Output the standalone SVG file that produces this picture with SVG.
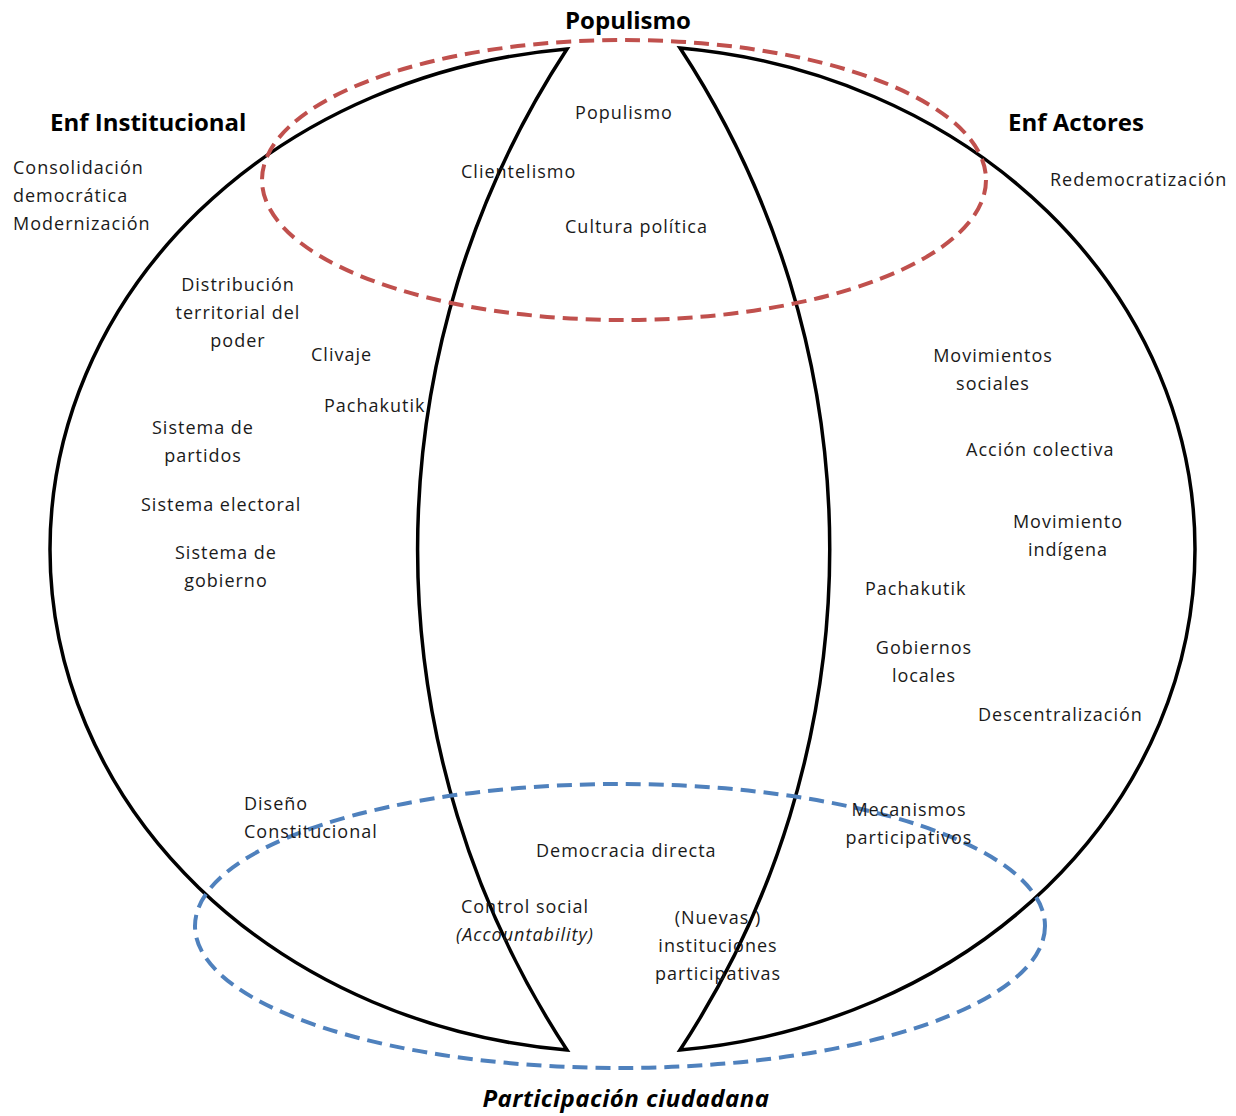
<svg xmlns="http://www.w3.org/2000/svg" width="1236" height="1116" viewBox="0 0 1236 1116">
<style>
.t{font-family:"Open Sans","Liberation Sans",sans-serif;font-size:18px;fill:#1a1a1a;letter-spacing:1px}
.m{text-anchor:middle}
.h{font-family:"Open Sans","Liberation Sans",sans-serif;font-size:24px;font-weight:bold;fill:#000}
.shape{fill:none;stroke:#000;stroke-width:3.5;stroke-linejoin:miter}
.red{fill:none;stroke:#c0504d;stroke-width:4;stroke-dasharray:15 8}
.blue{fill:none;stroke:#4f81bd;stroke-width:4;stroke-dasharray:15 8}
</style>
<rect width="1236" height="1116" fill="#fff"/>
<g id="shapes">
<g id="left-half"><path class="shape" d="M567,49 A572.5,502.9 0 0 0 50,549.5 A572.5,502.9 0 0 0 567,1050 A913,913 0 0 1 567,49 Z"/></g>
<g id="right-half"><path class="shape" d="M680,48 A572.5,503.55 0 0 1 1195,549 A572.5,503.55 0 0 1 680,1050 A913,913 0 0 0 680,48 Z"/></g>
<g id="populismo-ellipse"><ellipse class="red" cx="624" cy="180" rx="362" ry="140"/></g>
<g id="participacion-ellipse"><ellipse class="blue" cx="620" cy="926" rx="425" ry="142"/></g>
</g>
<g id="connectors"></g>
<g id="labels">
<text class="h m" x="628" y="29" font-size="25">Populismo</text>
<text class="h" x="50" y="131">Enf Institucional</text>
<text class="h" x="1008" y="131" font-size="25">Enf Actores</text>
<text class="h m" x="626" y="1107" font-style="italic" font-size="27" letter-spacing="0.5">Participación ciudadana</text>

<text class="t" x="13" y="174">Consolidación</text>
<text class="t" x="13" y="202">democrática</text>
<text class="t" x="13" y="230">Modernización</text>
<text class="t" x="1050" y="186">Redemocratización</text>

<text class="t m" x="624" y="119">Populismo</text>
<text class="t" x="461" y="178">Clientelismo</text>
<text class="t" x="565" y="233">Cultura política</text>

<text class="t m" x="238" y="291">Distribución</text>
<text class="t m" x="238" y="319">territorial del</text>
<text class="t m" x="238" y="347">poder</text>
<text class="t" x="311" y="361">Clivaje</text>
<text class="t" x="324" y="412">Pachakutik</text>
<text class="t m" x="203" y="434">Sistema de</text>
<text class="t m" x="203" y="462">partidos</text>
<text class="t" x="141" y="511">Sistema electoral</text>
<text class="t m" x="226" y="559">Sistema de</text>
<text class="t m" x="226" y="587">gobierno</text>

<text class="t m" x="993" y="362">Movimientos</text>
<text class="t m" x="993" y="390">sociales</text>
<text class="t" x="966" y="456">Acción colectiva</text>
<text class="t m" x="1068" y="528">Movimiento</text>
<text class="t m" x="1068" y="556">indígena</text>
<text class="t" x="865" y="595">Pachakutik</text>
<text class="t m" x="924" y="654">Gobiernos</text>
<text class="t m" x="924" y="682">locales</text>
<text class="t" x="978" y="721">Descentralización</text>

<text class="t" x="244" y="810">Diseño</text>
<text class="t" x="244" y="838">Constitucional</text>
<text class="t m" x="909" y="816">Mecanismos</text>
<text class="t m" x="909" y="844">participativos</text>
<text class="t" x="536" y="857">Democracia directa</text>
<text class="t m" x="525" y="913">Control social</text>
<text class="t m" x="525" y="941" font-style="italic">(Accountability)</text>
<text class="t m" x="718" y="924">(Nuevas )</text>
<text class="t m" x="718" y="952">instituciones</text>
<text class="t m" x="718" y="980">participativas</text>
</g>
</svg>
